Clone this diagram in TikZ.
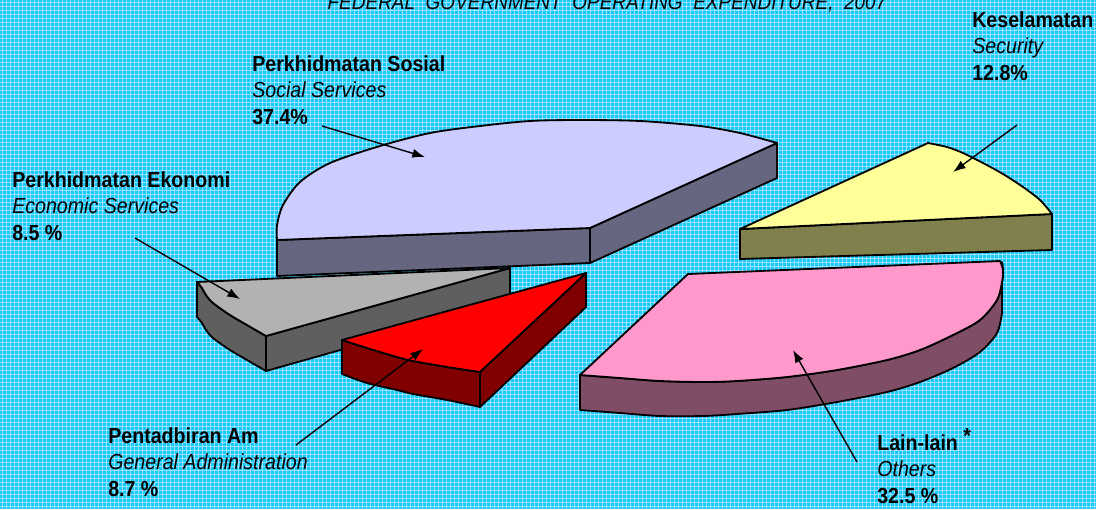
\documentclass[tikz,border=0pt]{standalone}
\usepackage{fontspec}
\setmainfont{Liberation Sans}[FakeStretch=0.9]
\usepackage{xcolor}
\usetikzlibrary{arrows.meta}

\definecolor{bgcyan}{RGB}{25,200,250}
\definecolor{gridcyan}{RGB}{150,228,255}
\definecolor{soctop}{RGB}{204,204,255}
\definecolor{socside}{RGB}{102,102,128}
\definecolor{ecotop}{RGB}{178,178,178}
\definecolor{ecoside}{RGB}{95,95,95}
\definecolor{admtop}{RGB}{255,0,0}
\definecolor{admside}{RGB}{128,0,0}
\definecolor{sectop}{RGB}{255,255,153}
\definecolor{secside}{RGB}{128,128,77}
\definecolor{othtop}{RGB}{255,153,204}
\definecolor{othside}{RGB}{128,77,102}

\tikzset{
  slice/.style={draw=black, line width=1.3pt, line join=round},
  gridline/.style={gridcyan, line width=0.5pt},
  lbl/.style={anchor=north west, align=left, inner sep=0pt, font=\fontsize{15.5}{19}\selectfont},
  ttl/.style={anchor=base, inner sep=0pt, font=\itshape\fontsize{15}{17}\selectfont},
  pointer/.style={-{Latex[length=9pt,width=6.5pt]}, line width=1pt}
}

\begin{document}
\begin{tikzpicture}[x=0.025cm, y=-0.025cm]
    % Background with fine grid
    \useasboundingbox (0,0) rectangle (1096,509);
    \fill[bgcyan] (0,0) rectangle (1096,509);
    \foreach \gx in {2,6,...,1094} \draw[gridline] (\gx,0) -- (\gx,509);
    \foreach \gy in {2,6,...,507} \draw[gridline] (0,\gy) -- (1096,\gy);

    % Title (cut at the top edge)
    \node[ttl] (title) at (607,9) {FEDERAL\ \ GOVERNMENT\ \ OPERATING\ \ EXPENDITURE,\ \ 2007};

    % Social services slice (back)
    \filldraw[slice, fill=socside] (277,240) -- (590,228) -- (590,263) -- (277,276) -- cycle;
    \filldraw[slice, fill=socside] (590,228) -- (777,143) -- (777,178) -- (590,263) -- cycle;
    \filldraw[slice, fill=soctop] (277,240) -- (590,228) -- (777,143) -- plot[smooth] coordinates {(777,143) (740,133) (700,126) (640,121) (580,120) (530,121) (480,126) (430,133) (380,146) (330,163) (300,182) (283,205) (277,225) (277,240)} -- cycle;

    % Security slice
    \filldraw[slice, fill=secside] (740,229) -- (1052,214) -- (1052,250) -- (740,259) -- cycle;
    \filldraw[slice, fill=sectop] (740,229) -- (928,143) -- plot[smooth] coordinates {(928,143) (947,147) (963,153) (983,163) (1003,174) (1023,187) (1040,200) (1052,214)} -- cycle;

    % Economic services slice
    \filldraw[slice, fill=ecoside] plot[smooth] coordinates {(197,282) (202,288) (206,295) (213,303) (230,315) (247,325) (266,336)} -- (266,371) -- plot[smooth] coordinates {(266,371) (247,360) (230,350) (213,338) (206,330) (202,323) (197,317)} -- cycle;
    \filldraw[slice, fill=ecoside] (266,336) -- (510,268) -- (510,302) -- (266,371) -- cycle;
    \filldraw[slice, fill=ecotop] (510,268) -- (266,336) -- plot[smooth] coordinates {(266,336) (247,325) (230,315) (213,303) (206,295) (202,288) (197,282)} -- cycle;

    % General administration slice
    \filldraw[slice, fill=admside] plot[smooth] coordinates {(342,340) (367,348) (397,357) (413,361) (447,367) (480,372)} -- (480,407) -- plot[smooth] coordinates {(480,407) (447,400) (413,394) (397,390) (367,383) (342,374)} -- cycle;
    \filldraw[slice, fill=admside] (480,372) -- (586,273) -- (586,307) -- (480,407) -- cycle;
    \filldraw[slice, fill=admtop] (586,273) -- (480,372) -- plot[smooth] coordinates {(480,372) (447,367) (413,361) (397,357) (367,348) (342,340)} -- cycle;

    % Others slice (front)
    \filldraw[slice, fill=othside] plot[smooth] coordinates {(1002,262) (1003,270) (1002,282) (997,300) (980,320) (953,335) (920,350) (887,360) (837,370) (787,377) (737,381) (703,382) (660,381) (620,378) (580,375)} -- (580,410) -- plot[smooth] coordinates {(580,410) (620,413) (660,416) (703,416) (737,414) (787,410) (837,402) (887,392) (920,382) (953,368) (980,352) (997,333) (1002,313)} -- cycle;
    \filldraw[slice, fill=othtop] (580,375) -- (688,274) -- (1000,261) -- plot[smooth] coordinates {(1000,261) (1003,270) (1002,282) (997,300) (980,320) (953,335) (920,350) (887,360) (837,370) (787,377) (737,381) (703,382) (660,381) (620,378) (580,375)} -- cycle;

    % Labels
    \node[lbl] (soclbl) at (252,55) {\textbf{Perkhidmatan Sosial}\\\textit{Social Services}\\\textbf{37.4\%}};
    \node[lbl] (ecolbl) at (12,171) {\textbf{Perkhidmatan Ekonomi}\\\textit{Economic Services}\\\textbf{8.5 \%}};
    \node[lbl] (seclbl) at (972,11) {\textbf{Keselamatan}\\\textit{Security}\\\textbf{12.8\%}};
    \node[lbl] (admlbl) at (108,427) {\textbf{Pentadbiran Am}\\\textit{General Administration}\\\textbf{8.7 \%}};
    \node[lbl] (othlbl) at (877,434) {\textbf{Lain-lain \smash{\raisebox{5pt}{*}}}\\\textit{Others}\\\textbf{32.5 \%}};

    % Pointers from labels to slices
    \coordinate (socS) at (322,126);
    \coordinate (socT) at (425,157);
    \coordinate (ecoS) at (135,238);
    \coordinate (ecoT) at (240,299);
    \coordinate (admS) at (296,445);
    \coordinate (admT) at (423,349);
    \coordinate (secS) at (1017,125);
    \coordinate (secT) at (953,172);
    \coordinate (othS) at (857,462);
    \coordinate (othT) at (793,350);
    \draw[pointer] (socS) -- (socT);
    \draw[pointer] (ecoS) -- (ecoT);
    \draw[pointer] (admS) -- (admT);
    \draw[pointer] (secS) -- (secT);
    \draw[pointer] (othS) -- (othT);
\end{tikzpicture}
\end{document}
